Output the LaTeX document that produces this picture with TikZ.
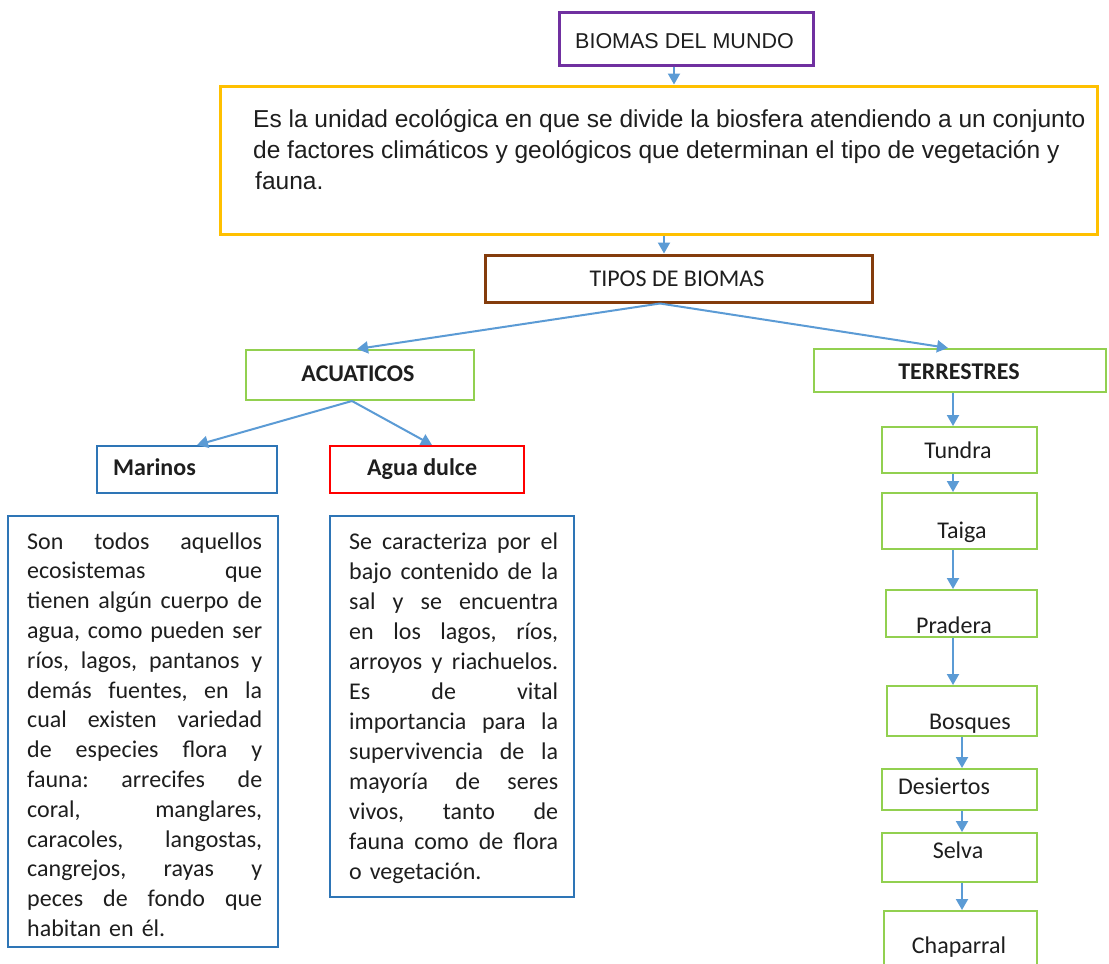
\documentclass[tikz,border=0pt]{standalone}
\usepackage{fontspec}
\setmainfont{Liberation Sans}
\newfontfamily\calfont{Carlito}
\usetikzlibrary{arrows.meta,fit}
\definecolor{purp}{RGB}{112,48,160}
\definecolor{yel}{RGB}{255,192,0}
\definecolor{brn}{RGB}{132,60,12}
\definecolor{grn}{RGB}{146,208,80}
\definecolor{blu}{RGB}{46,117,182}
\definecolor{redb}{RGB}{255,0,0}
\definecolor{arrc}{RGB}{91,155,213}
\definecolor{txt}{RGB}{30,30,30}
\newlength\jw
\newcommand\jl[1]{\leavevmode\strut\hbox to \jw{\frenchspacing\spaceskip=\fontdimen2\font plus 1fil\relax #1}}
\begin{document}
\begin{tikzpicture}[x=1pt,y=-1pt,
  bx/.style={inner sep=0pt, draw=#1},
  thick3/.style={line width=3pt},
  thin2/.style={line width=2pt},
  lab/.style={inner sep=0pt, text=txt, font=\calfont\fontsize{24}{28}\selectfont},
  blab/.style={inner sep=0pt, text=txt, font=\calfont\bfseries\fontsize{24}{28}\selectfont},
  body/.style={inner sep=0pt, text=txt, align=left, anchor=north west},
  arr/.style={draw=arrc, line width=2pt, -{Triangle[length=11pt,width=12pt]}}]
\useasboundingbox (0,0) rectangle (1109,964);
\fill[white] (0,0) rectangle (1109,964);
\clip (0,0) rectangle (1109,964);

% boxes
\node[bx=purp, thick3, fit={(559,12) (813,65)}] (biomas) {};
\node[bx=yel, thick3, fit={(220,86) (1097,234)}] (def) {};
\node[bx=brn, thick3, fit={(485,255) (872,302)}] (tipos) {};
\node[bx=grn, thin2, fit={(246,350) (474,400)}] (acu) {};
\node[bx=grn, thin2, fit={(814,349) (1106,392)}] (ter) {};
\node[bx=blu, thin2, fit={(97,446) (277,493)}] (mar) {};
\node[bx=redb, thin2, fit={(330,446) (524,493)}] (agua) {};
\node[bx=blu, thin2, fit={(8,516) (278,947)}] (marbox) {};
\node[bx=blu, thin2, fit={(330,516) (574,897)}] (aguabox) {};
\node[bx=grn, thin2, fit={(882,427) (1037,473)}] (tundra) {};
\node[bx=grn, thin2, fit={(882,493) (1037,549)}] (taiga) {};
\node[bx=grn, thin2, fit={(886,590) (1037,637)}] (pradera) {};
\node[bx=grn, thin2, fit={(887,686) (1037,736)}] (bosques) {};
\node[bx=grn, thin2, fit={(882,769) (1037,810)}] (desiertos) {};
\node[bx=grn, thin2, fit={(882,833) (1037,882)}] (selva) {};
\node[bx=grn, thin2, fit={(884,911) (1037,985)}] (chap) {};

% labels
\node[inner sep=0pt, text=txt, anchor=base west, font=\fontsize{21.5}{26}\selectfont] (tbiomas) at (575,48) {BIOMAS DEL MUNDO};
\node[body, font=\fontsize{24.5}{31}\selectfont] (tdef) at (253,105.3)
 {\strut Es la unidad ecológica en que se divide la biosfera atendiendo a un conjunto\\
  de factores climáticos y geológicos que determinan el tipo de vegetación y\\
  \hspace{2pt}fauna.};
\node[lab, anchor=base] (ttipos) at (677,286) {TIPOS DE BIOMAS};
\node[blab, anchor=base] (tacu) at (358,381) {ACUATICOS};
\node[blab, anchor=base] (tter) at (959,379) {TERRESTRES};
\node[blab, anchor=base west] (tmar) at (113,475) {Marinos};
\node[blab, anchor=base west] (tagua) at (367,475) {Agua dulce};

\node[body, text width=235pt, font=\calfont\fontsize{24}{29.8}\selectfont] (martxt) at (27,528.1)
 {\global\jw=235pt\jl{Son todos aquellos}\\
  \jl{ecosistemas que}\\
  \jl{tienen algún cuerpo de}\\
  \jl{agua, como pueden ser}\\
  \jl{ríos, lagos, pantanos y}\\
  \jl{demás fuentes, en la}\\
  \jl{cual existen variedad}\\
  \jl{de especies flora y}\\
  \jl{fauna: arrecifes de}\\
  \jl{coral, manglares,}\\
  \jl{caracoles, langostas,}\\
  \jl{cangrejos, rayas y}\\
  \jl{peces de fondo que}\\
  habitan en él.};
\node[body, text width=209pt, font=\calfont\fontsize{24}{30}\selectfont] (aguatxt) at (349,528)
 {\global\jw=209pt\jl{Se caracteriza por el}\\
  \jl{bajo contenido de la}\\
  \jl{sal y se encuentra}\\
  \jl{en los lagos, ríos,}\\
  \jl{arroyos y riachuelos.}\\
  \jl{Es de vital}\\
  \jl{importancia para la}\\
  \jl{supervivencia de la}\\
  \jl{mayoría de seres}\\
  \jl{vivos, tanto de}\\
  \jl{fauna como de flora}\\
  o vegetación.};

\node[lab, anchor=base] (ttundra) at (958,458) {Tundra};
\node[lab, anchor=base] (ttaiga) at (962,538) {Taiga};
\node[lab, anchor=base] (tpradera) at (954,633) {Pradera};
\node[lab, anchor=base] (tbosques) at (970,729) {Bosques};
\node[lab, anchor=base] (tdesiertos) at (944,794) {Desiertos};
\node[lab, anchor=base] (tselva) at (958,858) {Selva};
\node[lab, anchor=base] (tchap) at (959,953) {Chaparral};

% connectors
\draw[arr] (biomas.south -| 674,0) -- (def.north -| 674,0);
\draw[arr] (def.south -| 664,0) -- (tipos.north -| 664,0);
\draw[arr] (tipos.south -| 660,0) -- (acu.north -| 357,0);
\draw[arr] (tipos.south -| 660,0) -- (ter.north -| 948,0);
\draw[arr] (acu.south -| 352,0) -- (mar.north -| 197,0);
\draw[arr] (acu.south -| 352,0) -- (agua.north -| 432,0);
\draw[arr] (ter.south -| 953,0) -- (tundra.north -| 953,0);
\draw[arr] (tundra.south -| 953,0) -- (taiga.north -| 953,0);
\draw[arr] (taiga.south -| 953,0) -- (pradera.north -| 953,0);
\draw[arr] (pradera.south -| 953,0) -- (bosques.north -| 953,0);
\draw[arr] (bosques.south -| 962,0) -- (desiertos.north -| 962,0);
\draw[arr] (desiertos.south -| 962,0) -- (selva.north -| 962,0);
\draw[arr] (selva.south -| 962,0) -- (chap.north -| 962,0);
\end{tikzpicture}
\end{document}
